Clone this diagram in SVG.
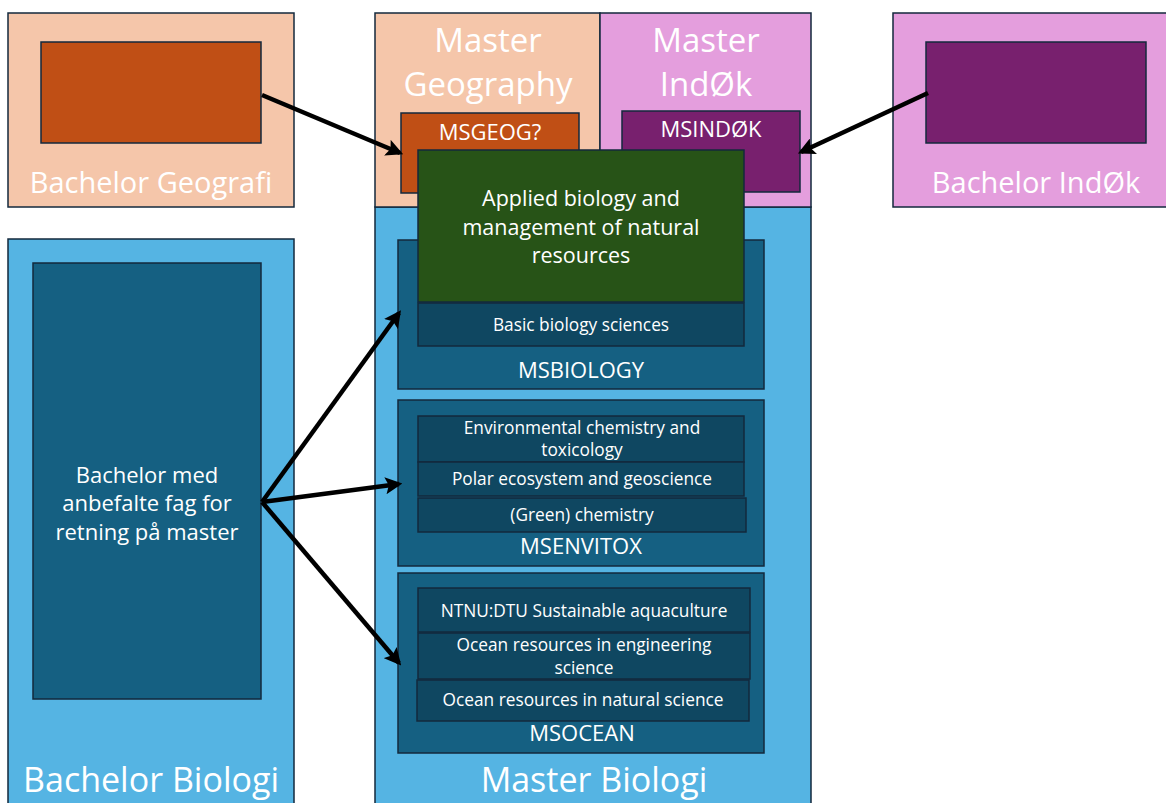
<svg xmlns="http://www.w3.org/2000/svg" width="1166" height="803" viewBox="0 0 1166 803">
<defs>
<marker id="ah" viewBox="0 0 10 10" refX="8" refY="5" markerWidth="3.8" markerHeight="3.8" orient="auto" markerUnits="strokeWidth">
<path d="M0,0 L10,5 L0,10 L2,5 z" fill="#000"/>
</marker>
<style>
rect{stroke:#13293d;stroke-width:1.5}
.peach{fill:#f5c6aa}
.pink{fill:#e49edd}
.sky{fill:#55b4e3}
.orange{fill:#c04f15}
.purple{fill:#78206e}
.teal{fill:#156082}
.dteal{fill:#0f4761}
.green{fill:#275317}
text{font-family:"Open Sans","Liberation Sans",sans-serif;fill:#fff;text-anchor:middle}
.big{font-size:34px}
.mast{font-size:33px}
.mid{font-size:29px}
.lab{font-size:22px}
.app{font-size:21.5px}
.sm{font-size:17.3px}
.conn line{stroke:#000;stroke-width:4.5;marker-end:url(#ah)}
</style>
</defs>
<rect width="1166" height="803" fill="#fff" style="stroke:none"/>

<g id="bachelor-geografi">
<rect class="peach" x="8" y="13" width="286" height="194"/>
<rect class="orange" x="41" y="42" width="220" height="101"/>
<text class="mid" x="151" y="193">Bachelor Geografi</text>
</g>

<g id="bachelor-indok">
<rect class="pink" x="893" y="13" width="280" height="194"/>
<rect class="purple" x="926" y="42" width="220" height="101"/>
<text class="mid" x="1036" y="193">Bachelor IndØk</text>
</g>

<g id="master-biologi">
<rect class="sky" x="375" y="207" width="436" height="600"/>
<text class="big" x="594" y="792">Master Biologi</text>
</g>

<g id="master-geography">
<rect class="peach" x="375" y="13" width="225" height="194"/>
<text class="mast" x="488" y="52">Master</text>
<text class="mast" x="488" y="96">Geography</text>
</g>

<g id="master-indok">
<rect class="pink" x="600" y="13" width="211" height="194"/>
<text class="mast" x="706" y="52">Master</text>
<text class="mast" x="706" y="96">IndØk</text>
</g>

<g id="msgeog">
<rect class="orange" x="401" y="113" width="178" height="80"/>
<text class="lab" x="490" y="140">MSGEOG?</text>
</g>

<g id="msindok">
<rect class="purple" x="622" y="111" width="178" height="81"/>
<text class="lab" x="711" y="137">MSINDØK</text>
</g>

<g id="msbiology">
<rect class="teal" x="398" y="240" width="366" height="149"/>
<text class="lab" x="581" y="378">MSBIOLOGY</text>
</g>

<g id="basic-biology">
<rect class="dteal" x="418" y="303" width="326" height="43"/>
<text class="sm" x="581" y="331">Basic biology sciences</text>
</g>

<g id="applied-biology">
<rect class="green" x="418" y="150" width="326" height="152"/>
<text class="app" x="581" y="206">Applied biology and</text>
<text class="app" x="581" y="235">management of natural</text>
<text class="app" x="581" y="263">resources</text>
</g>

<g id="msenvitox">
<rect class="teal" x="398" y="400" width="366" height="166"/>
<text class="lab" x="581" y="554">MSENVITOX</text>
</g>
<g id="env-chem">
<rect class="dteal" x="418" y="416" width="326" height="46"/>
<text class="sm" x="582" y="434">Environmental chemistry and</text>
<text class="sm" x="582" y="456">toxicology</text>
</g>
<g id="polar">
<rect class="dteal" x="418" y="462" width="326" height="34"/>
<text class="sm" x="582" y="485">Polar ecosystem and geoscience</text>
</g>
<g id="green-chem">
<rect class="dteal" x="418" y="498" width="328" height="34"/>
<text class="sm" x="582" y="521">(Green) chemistry</text>
</g>

<g id="msocean">
<rect class="teal" x="398" y="573" width="366" height="180"/>
<text class="lab" x="582" y="741">MSOCEAN</text>
</g>
<g id="aquaculture">
<rect class="dteal" x="418" y="588" width="332" height="44"/>
<text class="sm" x="584" y="617">NTNU:DTU Sustainable aquaculture</text>
</g>
<g id="ocean-eng">
<rect class="dteal" x="418" y="633" width="332" height="46"/>
<text class="sm" x="584" y="651">Ocean resources in engineering</text>
<text class="sm" x="584" y="674">science</text>
</g>
<g id="ocean-nat">
<rect class="dteal" x="417" y="680" width="332" height="41"/>
<text class="sm" x="583" y="706">Ocean resources in natural science</text>
</g>

<g id="bachelor-biologi">
<rect class="sky" x="8" y="239" width="286" height="570"/>
<rect class="teal" x="33" y="263" width="228" height="436"/>
<text class="lab" x="147" y="483">Bachelor med</text>
<text class="lab" x="147" y="511">anbefalte fag for</text>
<text class="lab" x="147" y="540">retning på master</text>
<text class="big" x="151" y="792">Bachelor Biologi</text>
</g>

<g id="connectors" class="conn">
<line x1="262" y1="95" x2="400" y2="153"/>
<line x1="928" y1="93" x2="801" y2="152"/>
<line x1="262" y1="502" x2="399" y2="313"/>
<line x1="262" y1="502" x2="399" y2="484"/>
<line x1="262" y1="502" x2="399" y2="663"/>
</g>
</svg>
